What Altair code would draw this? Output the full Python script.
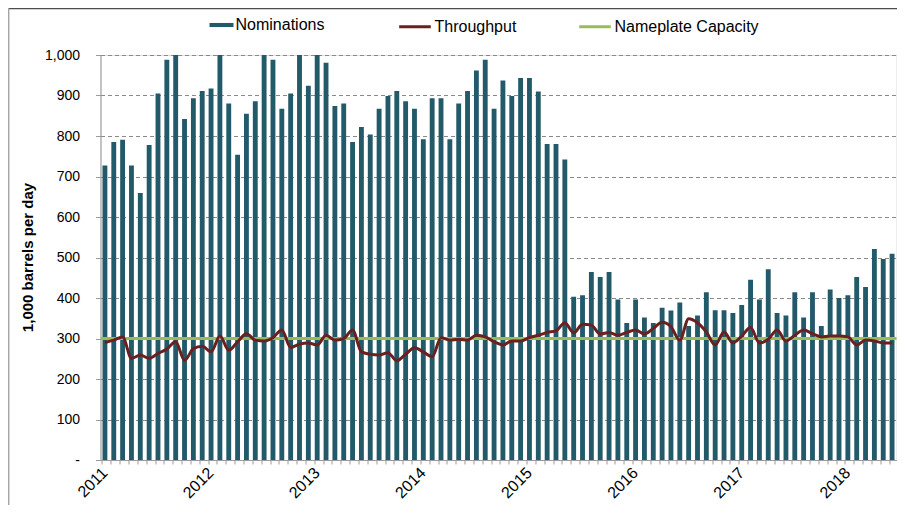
import altair as alt
import pandas as pd

years = [2011, 2012, 2013, 2014, 2015, 2016, 2017, 2018]
months_per_year = [12, 12, 12, 12, 12, 12, 12, 6]

nominations = [
    727, 785, 791, 727, 659, 778, 905, 988, 1000, 842, 893, 911,
    917, 1000, 880, 754, 855, 886, 1000, 988, 867, 905, 1000, 924,
    1000, 981, 874, 880, 785, 822, 804, 867, 899, 911, 886, 867,
    792, 893, 893, 792, 880, 911, 962, 988, 867, 937, 899, 943,
    943, 910, 780, 780, 742, 403, 407, 464, 452, 464, 396, 338,
    396, 352, 338, 376, 369, 389, 331, 357, 414, 370, 370, 363,
    383, 445, 396, 471, 363, 357, 414, 352, 414, 331, 421, 400,
    407, 452, 427, 521, 496, 509,
]
throughput = [
    290, 296, 304, 251, 259, 251, 263, 274, 292, 246, 275, 281,
    267, 306, 271, 292, 312, 296, 294, 302, 321, 278, 286, 289,
    284, 308, 296, 300, 321, 267, 261, 259, 265, 245, 261, 277,
    267, 255, 302, 296, 298, 296, 308, 304, 292, 284, 294, 294,
    302, 308, 315, 319, 339, 314, 335, 333, 311, 315, 308, 315,
    321, 311, 325, 340, 329, 296, 349, 339, 316, 284, 316, 289,
    306, 327, 289, 298, 321, 294, 308, 321, 312, 304, 306, 306,
    304, 284, 296, 294, 289, 289,
]
nameplate_capacity = 300
y_ticks = [0, 100, 200, 300, 400, 500, 600, 700, 800, 900, 1000]

months = []
for yr, n in zip(years, months_per_year):
    for m in range(1, n + 1):
        months.append(f"{yr}-{m:02d}")

df = pd.DataFrame({"month": months, "nominations": nominations, "throughput": throughput})
cap_df = pd.DataFrame({"series": ["Nameplate Capacity"], "value": [nameplate_capacity]})

FONT = "Liberation Sans"
BAR = "#235A6A"
THRU = "#6B1F1F"
CAP = "#9BBB59"

x_enc = alt.X(
    "month:O",
    sort=months,
    title=None,
    scale=alt.Scale(paddingInner=0.45, paddingOuter=0.225),
    axis=alt.Axis(
        labelExpr="slice(datum.value, 5) == '01' ? slice(datum.value, 0, 4) : ''",
        labelAngle=315,
        labelAlign="right",
        labelBaseline="middle",
        labelPadding=6,
        labelFontSize=16,
        labelColor="#000000",
        labelFont=FONT,
        tickSize=4,
        tickColor="#9a9a9a",
        domainColor="#9a9a9a",
        bandPosition=0,
        grid=False,
    ),
)

y_scale = alt.Scale(domain=[0, 1000], nice=False)
y_axis = alt.Axis(
    values=y_ticks,
    labelExpr="datum.value == 0 ? '-\u00a0\u00a0' : format(datum.value, ',')",
    labelFontSize=14,
    labelColor="#000000",
    labelFont=FONT,
    labelPadding=16,
    tickSize=5,
    tickColor="#9a9a9a",
    domainColor="#9a9a9a",
    gridColor="#8a8a8a",
    gridDash=[4, 3],
    gridWidth=1,
    title="1,000 barrels per day",
    titleFont=FONT,
    titleFontSize=15,
    titleFontWeight="bold",
    titleColor="#000000",
    titleAngle=270,
    titleAlign="center",
    titleBaseline="middle",
    titleX=-73,
    titleY=202,
)

bars = alt.Chart(df).transform_calculate(series="'Nominations'").mark_bar().encode(
    x=x_enc,
    y=alt.Y("nominations:Q", scale=y_scale, axis=y_axis),
    fill=alt.Fill(
        "series:N",
        scale=alt.Scale(domain=["Nominations"], range=[BAR]),
        legend=alt.Legend(
            orient="none",
            legendX=109,
            legendY=-42,
            title=None,
            symbolType="M-1,-0.17L1,-0.17L1,0.17L-1,0.17Z",
            symbolSize=576,
            symbolStrokeWidth=0,
            labelFontSize=16,
            labelFont=FONT,
            labelColor="#000000",
            labelOffset=2,
        ),
    ),
)

line = alt.Chart(df).transform_calculate(series="'Throughput'").mark_line(
    interpolate="monotone", strokeWidth=3
).encode(
    x=x_enc,
    y=alt.Y("throughput:Q", scale=y_scale),
    stroke=alt.Stroke(
        "series:N",
        scale=alt.Scale(domain=["Throughput", "Nameplate Capacity"], range=[THRU, CAP]),
        legend=alt.Legend(
            orient="none",
            legendX=297,
            legendY=-46,
            direction="horizontal",
            title=None,
            symbolType="stroke",
            symbolSize=1000,
            symbolStrokeWidth=3,
            labelFontSize=16,
            labelFont=FONT,
            labelColor="#000000",
            labelOffset=2,
            columnPadding=56,
        ),
    ),
)

cap = alt.Chart(cap_df).mark_rule(strokeWidth=3).encode(
    y=alt.Y("value:Q", scale=y_scale),
    stroke=alt.Stroke("series:N"),
)

frame_top = alt.Chart(alt.Data(values=[{}])).mark_rule(
    stroke="#4d4d4d", strokeWidth=1.5
).encode(x=alt.value(-92), x2=alt.value(810), y=alt.value(-46.5))

frame_left = alt.Chart(alt.Data(values=[{}])).mark_rule(
    stroke="#a6a6a6", strokeWidth=1.5
).encode(x=alt.value(-91.8), y=alt.value(-46.5), y2=alt.value(460))

chart = alt.layer(bars, cap, line, frame_top, frame_left).properties(
    width=796,
    height=405,
    autosize=alt.AutoSizeParams(type="none"),
    padding={"left": 92.5, "top": 47, "right": 0, "bottom": 45},
).configure_view(stroke="transparent").configure(background="#ffffff")

chart.save("out.html", embed_options={"renderer": "svg", "actions": False})
